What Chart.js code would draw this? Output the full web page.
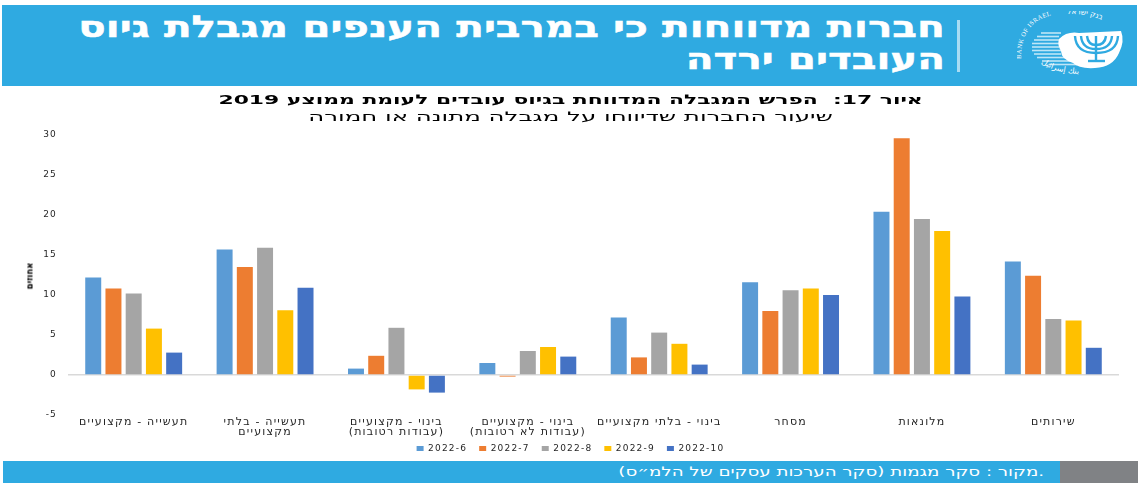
<!DOCTYPE html>
<html lang="he">
<head>
<meta charset="UTF-8">
<title>חברות מדווחות</title>
<script src="https://cdn.jsdelivr.net/npm/chart.js"></script>
<style>
    html, body { margin: 0; padding: 0; background: #fff; overflow: hidden; }
    body { width: 1141px; height: 483px; position: relative; font-family: 'DejaVu Sans', sans-serif; }
    .header { position: absolute; left: 2px; top: 5px; width: 1135px; height: 81px; background: #2faae1; }
    .headline { position: absolute; right: 192px; color: #fff; font-weight: bold; font-size: 30px; line-height: 40px; white-space: nowrap; direction: rtl; transform: scaleX(1.35); transform-origin: right center; -webkit-text-stroke: 0.5px #fff; }
    .divider { position: absolute; left: 955px; top: 15px; width: 3px; height: 52px; background: #a9dcf3; }
    .logo { position: absolute; left: 1015px; top: 6px; }
    .chart-heading { position: absolute; left: 0; width: 1141px; text-align: center; direction: rtl; white-space: nowrap; font-size: 13px; line-height: 16px; color: #000; }
    .chart-heading span { display: inline-block; }
    .y-heading { position: absolute; left: 29px; top: 276px; font-size: 10px; font-weight: bold; color: #000; white-space: nowrap; direction: rtl; transform: translate(-50%, -50%) rotate(-90deg) scaleX(0.85); }
    .footer { position: absolute; left: 3px; top: 461px; width: 1057px; height: 22px; background: #2faae1; color: #fff; font-size: 13px; line-height: 22px; }
    .footer span { position: absolute; right: 16px; top: 0; white-space: nowrap; direction: rtl; transform: scaleX(1.4); transform-origin: right center; }
    .footer-end { position: absolute; left: 1060px; top: 461px; width: 78px; height: 22px; background: #808285; }
    #chartBox { position: absolute; left: 0; top: 88px; width: 1141px; height: 375px; }
</style>
</head>
<body>
<div class="header">
    <div class="headline" style="top:2px">חברות מדווחות כי במרבית הענפים מגבלת גיוס</div>
    <div class="headline" style="top:34px">העובדים ירדה</div>
    <div class="divider"></div>
    <svg class="logo" width="112" height="74" viewBox="0 0 112 74">
        <defs>
            <path id="ringLeft" d="M 4 48 Q 4 6 44 3"></path>
            <path id="ringRight" d="M 50 3 Q 80 2 100 18"></path>
            <path id="ringBottom" d="M 24 52 Q 44 66 82 62"></path>
        </defs>
        <g stroke="#bfe6f7" stroke-width="1.6">
            <line x1="24" y1="22" x2="44" y2="22"></line>
            <line x1="20" y1="25.5" x2="42" y2="25.5"></line>
            <line x1="17" y1="29" x2="42" y2="29"></line>
            <line x1="15" y1="32.5" x2="42" y2="32.5"></line>
            <line x1="15" y1="36" x2="42" y2="36"></line>
            <line x1="15" y1="39.5" x2="44" y2="39.5"></line>
            <line x1="17" y1="43" x2="44" y2="43"></line>
            <line x1="20" y1="46.5" x2="48" y2="46.5"></line>
            <line x1="25" y1="50" x2="54" y2="50"></line>
            <line x1="32" y1="53.5" x2="60" y2="53.5"></line>
        </g>
        <path d="M 42 28 Q 50 20 62 22 L 104 20 Q 108 30 102 42 Q 96 56 78 57 Q 62 58 56 52 Q 44 48 44 40 Q 40 34 42 28 Z" fill="#fff"></path>
        <g fill="none" stroke="#2faae1" stroke-width="2.4">
            <path d="M 58 25 Q 59 42 79 42 Q 100 42 101 25"></path>
            <path d="M 64 25 Q 65 38 79 38 Q 94 38 95 25"></path>
            <path d="M 70 25 Q 71 34 79 34 Q 88 34 89 25"></path>
            <path d="M 79 25 L 79 49"></path>
            <path d="M 71 50 L 88 50"></path>
        </g>
        <text font-family="Liberation Serif" font-size="6.5" fill="#fff"><textPath href="#ringLeft" textLength="58">BANK OF ISRAEL</textPath></text>
        <text font-family="DejaVu Sans" font-size="7.5" fill="#fff"><textPath href="#ringRight">בנק ישראל</textPath></text>
        <text font-family="DejaVu Sans" font-size="8" fill="#fff"><textPath href="#ringBottom">بنك إسرائيل</textPath></text>
    </svg>
</div>

<div id="chartBox"><canvas id="hiringChart"></canvas></div>

<div class="chart-heading" style="top:92px;font-weight:bold"><span style="transform:scaleX(1.68)">איור 17:&nbsp; הפרש המגבלה המדווחת בגיוס עובדים לעומת ממוצע 2019</span></div>
<div class="chart-heading" style="top:109px"><span style="transform:scaleX(1.88)">שיעור החברות שדיווחו על מגבלה מתונה או חמורה</span></div>
<div class="y-heading">אחוזים</div>

<div class="footer"><span>.מקור : סקר מגמות (סקר הערכות עסקים של הלמ״ס)</span></div>
<div class="footer-end"></div>

<script>
    // Sectors along the x axis
    const categories = [
        'תעשייה - מקצועיים',
        ['תעשייה - בלתי', 'מקצועיים'],
        ['בינוי - מקצועיים', '(עבודות רטובות)'],
        ['בינוי - מקצועיים', '(עבודות לא רטובות)'],
        'בינוי - בלתי מקצועיים',
        'מסחר',
        'מלונאות',
        'שירותים'
    ];

    const jun2022 = [12.2, 15.7, 0.8, 1.5, 7.2, 11.6, 20.4, 14.2];
    const jul2022 = [10.8, 13.5, 2.4, -0.2, 2.2, 8.0, 29.6, 12.4];
    const aug2022 = [10.2, 15.9, 5.9, 3.0, 5.3, 10.6, 19.5, 7.0];
    const sep2022 = [5.8, 8.1, -1.8, 3.5, 3.9, 10.8, 18.0, 6.8];
    const oct2022 = [2.8, 10.9, -2.2, 2.3, 1.3, 10.0, 9.8, 3.4];

    const seriesNames = ['2022-6', '2022-7', '2022-8', '2022-9', '2022-10'];
    const seriesColors = ['#5b9bd5', '#ed7d31', '#a5a5a5', '#ffc000', '#4472c4'];
    const seriesValues = [jun2022, jul2022, aug2022, sep2022, oct2022];

    const textColor = '#262626';

    const chartTweaks = {
        id: 'chartTweaks',
        // wider tracking for canvas text; a resize clears the context state so set it again
        beforeLayout(chart) { chart.ctx.letterSpacing = '1.2px'; },
        beforeDraw(chart) { chart.ctx.letterSpacing = '1.2px'; },
        // the two-line labels hang below the x scale box, over the legend's padding
        afterLayout(chart) { chart.scales.x.bottom += 14; }
    };

    new Chart(document.getElementById('hiringChart').getContext('2d'), {
        type: 'bar',
        plugins: [chartTweaks],
        data: {
            labels: categories,
            datasets: seriesValues.map((values, i) => ({
                label: seriesNames[i],
                data: values,
                backgroundColor: seriesColors[i],
                categoryPercentage: 0.77,
                barPercentage: 0.79
            }))
        },
        options: {
            responsive: true,
            maintainAspectRatio: false,
            animation: false,
            layout: { padding: { left: 22, right: 22, top: 47, bottom: 0 } },
            plugins: {
                legend: {
                    position: 'bottom',
                    labels: {
                        color: textColor,
                        boxWidth: 7,
                        boxHeight: 5,
                        padding: 12,
                        font: { family: 'DejaVu Sans', size: 9 }
                    }
                },
                tooltip: { enabled: false }
            },
            scales: {
                x: {
                    grid: { display: false, drawTicks: false },
                    border: { display: false },
                    afterFit(scale) { scale.height = 17; },
                    ticks: {
                        color: textColor,
                        maxRotation: 0,
                        minRotation: 0,
                        autoSkip: false,
                        padding: 3,
                        font: { family: 'DejaVu Sans', size: 11, lineHeight: 0.84 }
                    }
                },
                y: {
                    min: -5,
                    max: 30,
                    border: { display: false },
                    afterFit(scale) { scale.width = 46; },
                    grid: {
                        drawTicks: false,
                        lineWidth: 1.5,
                        // only the zero line is drawn
                        color: ctx => ctx.tick.value === 0 ? '#d9d9d9' : 'transparent'
                    },
                    ticks: {
                        stepSize: 5,
                        color: textColor,
                        padding: 11,
                        font: { family: 'DejaVu Sans', size: 9 }
                    }
                }
            }
        }
    });
</script>
</body>
</html>
